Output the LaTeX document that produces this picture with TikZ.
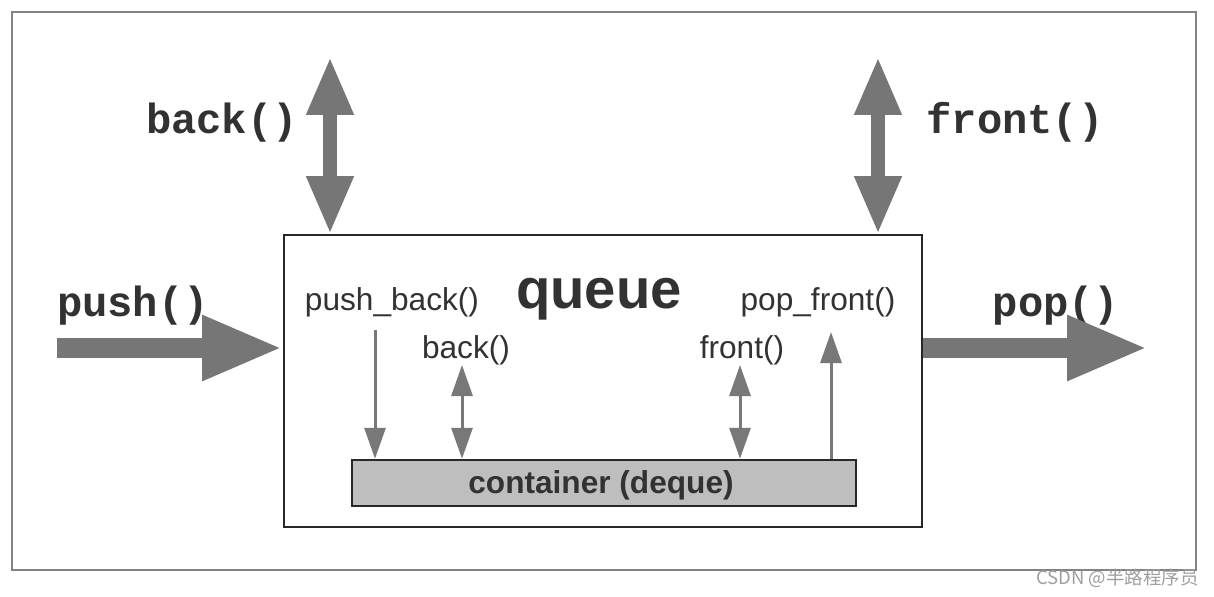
\documentclass[tikz,border=0pt]{standalone}
\usepackage{fontspec}
\setmainfont{Liberation Sans}
\newfontfamily\codefont{Liberation Mono}
\newfontfamily\cjkfont{Noto Sans CJK SC}
\usetikzlibrary{arrows.meta,calc}
\definecolor{bigarrow}{RGB}{118,118,118}
\definecolor{thinarrow}{RGB}{120,120,120}
\definecolor{boxline}{RGB}{40,40,40}
\definecolor{contfill}{RGB}{190,190,190}
\definecolor{txt}{RGB}{50,50,50}
\definecolor{framecol}{RGB}{130,130,130}
\tikzset{
  bigarr/.style={draw=bigarrow, line width=0.27cm, -{Triangle[length=1.16cm,width=0.88cm]}},
  bigdbl/.style={draw=bigarrow, line width=0.27cm, {Triangle[length=1.16cm,width=0.88cm]}-{Triangle[length=1.16cm,width=0.88cm]}},
  horarr/.style={draw=bigarrow, line width=0.4cm, -{Triangle[length=1.62cm,width=1.2cm]}},
  thinarr/.style={draw=thinarrow, line width=0.06cm, -{Triangle[length=0.62cm,width=0.42cm]}},
  thindbl/.style={draw=thinarrow, line width=0.06cm, {Triangle[length=0.62cm,width=0.42cm]}-{Triangle[length=0.62cm,width=0.42cm]}},
  codelabel/.style={inner sep=0pt, anchor=base, text=txt, font=\codefont\bfseries\fontsize{24}{28}\selectfont},
  innerlabel/.style={inner sep=0pt, anchor=base, text=txt, font=\fontsize{18}{21}\selectfont},
}
\begin{document}
\begin{tikzpicture}[x=0.02cm,y=-0.02cm]
\useasboundingbox (0,0) rectangle (1214,596);
\fill[white] (0,0) rectangle (1214,596);
% outer frame
\draw[framecol, line width=0.035cm] (12,12) rectangle (1196,570);
% queue box
\node (q) [draw=boxline, line width=0.04cm, fill=white, minimum width=638*0.02cm, minimum height=292*0.02cm, inner sep=0pt] at (603,381) {};
% container box
\node (c) [draw=boxline, fill=contfill, line width=0.05cm, minimum width=504*0.02cm, minimum height=46*0.02cm, inner sep=0pt] at (604,483) {};
\node (ctext) [inner sep=0pt, anchor=base, text=txt, font=\bfseries\fontsize{18}{21}\selectfont] at (601,493) {container (deque)};
% labels inside
\node (qtitle) [inner sep=0pt, anchor=base, text=txt, font=\bfseries\fontsize{32}{38}\selectfont] at (599,308) {queue};
\node (pb) [innerlabel] at (392,310) {push\_back()};
\node (pf) [innerlabel] at (818,310) {pop\_front()};
\node (ib) [innerlabel] at (466,358) {back()};
\node (ifr) [innerlabel] at (742,358) {front()};
% outer labels
\node (lback) [codelabel] at (222,133) {back()};
\node (lfront) [codelabel] at (1015,133) {front()};
\node (lpush) [codelabel] at (133,316) {push()};
\node (lpop) [codelabel] at (1056,316) {pop()};
% free ends
\coordinate (backtop) at (330,57);
\coordinate (fronttop) at (878,57);
\coordinate (pushstart) at (57,348);
\coordinate (popend) at (1148,348);
\coordinate (pbtop) at (375,330);
\coordinate (ibtop) at (462,365);
\coordinate (iftop) at (740,365);
\coordinate (pftop) at (831,332);
% big arrows
\draw[bigdbl] (backtop) -- (backtop |- q.north);
\draw[bigdbl] (fronttop) -- (fronttop |- q.north);
\draw[horarr] (pushstart) -- (pushstart -| q.west);
\draw[horarr] (popend -| q.east) -- (popend);
% thin arrows
\draw[thinarr] (pbtop) -- (pbtop |- c.north);
\draw[thindbl] (ibtop) -- (ibtop |- c.north);
\draw[thindbl] (iftop) -- (iftop |- c.north);
\draw[thinarr] (pftop |- c.north) -- (pftop);
% watermark
\node (wm) [inner sep=0pt, anchor=east, text=gray!75, font=\cjkfont\fontsize{10.5}{12}\selectfont] at (1199,578) {CSDN @半路程序员};
\end{tikzpicture}
\end{document}
